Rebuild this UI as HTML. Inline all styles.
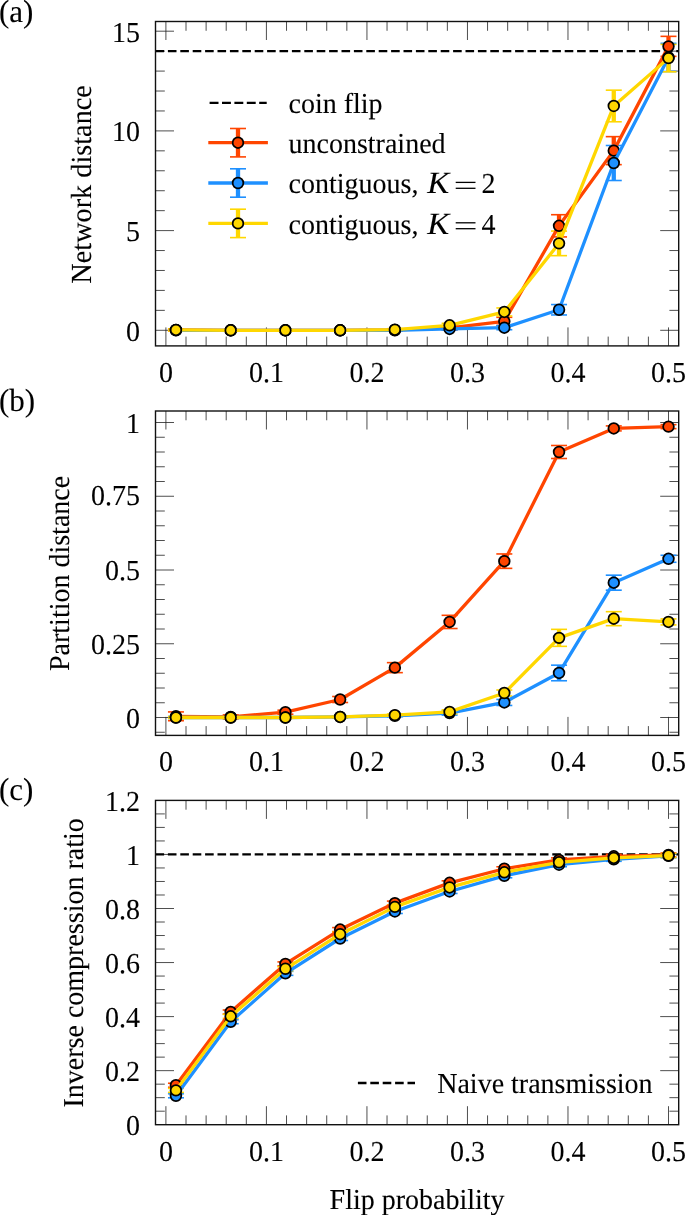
<!DOCTYPE html>
<html><head><meta charset="utf-8"><style>
html,body{margin:0;padding:0;background:#fff;width:685px;height:1215px;overflow:hidden}
svg{display:block;will-change:transform;font-family:"Liberation Serif",serif;text-rendering:geometricPrecision}
text{stroke:#000;stroke-width:0.1px}
</style></head><body>
<svg width="685" height="1215" viewBox="0 0 685 1215" fill="#000"><line x1="155.50" y1="330.30" x2="174.00" y2="330.30" stroke="#222" stroke-width="0.8" />
<line x1="678.70" y1="330.30" x2="660.20" y2="330.30" stroke="#222" stroke-width="0.8" />
<line x1="155.50" y1="310.36" x2="164.80" y2="310.36" stroke="#222" stroke-width="0.8" />
<line x1="678.70" y1="310.36" x2="669.40" y2="310.36" stroke="#222" stroke-width="0.8" />
<line x1="155.50" y1="290.42" x2="164.80" y2="290.42" stroke="#222" stroke-width="0.8" />
<line x1="678.70" y1="290.42" x2="669.40" y2="290.42" stroke="#222" stroke-width="0.8" />
<line x1="155.50" y1="270.48" x2="164.80" y2="270.48" stroke="#222" stroke-width="0.8" />
<line x1="678.70" y1="270.48" x2="669.40" y2="270.48" stroke="#222" stroke-width="0.8" />
<line x1="155.50" y1="250.54" x2="164.80" y2="250.54" stroke="#222" stroke-width="0.8" />
<line x1="678.70" y1="250.54" x2="669.40" y2="250.54" stroke="#222" stroke-width="0.8" />
<line x1="155.50" y1="230.60" x2="174.00" y2="230.60" stroke="#222" stroke-width="0.8" />
<line x1="678.70" y1="230.60" x2="660.20" y2="230.60" stroke="#222" stroke-width="0.8" />
<line x1="155.50" y1="210.66" x2="164.80" y2="210.66" stroke="#222" stroke-width="0.8" />
<line x1="678.70" y1="210.66" x2="669.40" y2="210.66" stroke="#222" stroke-width="0.8" />
<line x1="155.50" y1="190.72" x2="164.80" y2="190.72" stroke="#222" stroke-width="0.8" />
<line x1="678.70" y1="190.72" x2="669.40" y2="190.72" stroke="#222" stroke-width="0.8" />
<line x1="155.50" y1="170.78" x2="164.80" y2="170.78" stroke="#222" stroke-width="0.8" />
<line x1="678.70" y1="170.78" x2="669.40" y2="170.78" stroke="#222" stroke-width="0.8" />
<line x1="155.50" y1="150.84" x2="164.80" y2="150.84" stroke="#222" stroke-width="0.8" />
<line x1="678.70" y1="150.84" x2="669.40" y2="150.84" stroke="#222" stroke-width="0.8" />
<line x1="155.50" y1="130.90" x2="174.00" y2="130.90" stroke="#222" stroke-width="0.8" />
<line x1="678.70" y1="130.90" x2="660.20" y2="130.90" stroke="#222" stroke-width="0.8" />
<line x1="155.50" y1="110.96" x2="164.80" y2="110.96" stroke="#222" stroke-width="0.8" />
<line x1="678.70" y1="110.96" x2="669.40" y2="110.96" stroke="#222" stroke-width="0.8" />
<line x1="155.50" y1="91.02" x2="164.80" y2="91.02" stroke="#222" stroke-width="0.8" />
<line x1="678.70" y1="91.02" x2="669.40" y2="91.02" stroke="#222" stroke-width="0.8" />
<line x1="155.50" y1="71.08" x2="164.80" y2="71.08" stroke="#222" stroke-width="0.8" />
<line x1="678.70" y1="71.08" x2="669.40" y2="71.08" stroke="#222" stroke-width="0.8" />
<line x1="155.50" y1="51.14" x2="164.80" y2="51.14" stroke="#222" stroke-width="0.8" />
<line x1="678.70" y1="51.14" x2="669.40" y2="51.14" stroke="#222" stroke-width="0.8" />
<line x1="155.50" y1="31.20" x2="174.00" y2="31.20" stroke="#222" stroke-width="0.8" />
<line x1="678.70" y1="31.20" x2="660.20" y2="31.20" stroke="#222" stroke-width="0.8" />
<line x1="165.90" y1="345.90" x2="165.90" y2="327.40" stroke="#222" stroke-width="0.8" />
<line x1="165.90" y1="21.50" x2="165.90" y2="40.00" stroke="#222" stroke-width="0.8" />
<line x1="186.00" y1="345.90" x2="186.00" y2="336.60" stroke="#222" stroke-width="0.8" />
<line x1="186.00" y1="21.50" x2="186.00" y2="30.80" stroke="#222" stroke-width="0.8" />
<line x1="206.11" y1="345.90" x2="206.11" y2="336.60" stroke="#222" stroke-width="0.8" />
<line x1="206.11" y1="21.50" x2="206.11" y2="30.80" stroke="#222" stroke-width="0.8" />
<line x1="226.21" y1="345.90" x2="226.21" y2="336.60" stroke="#222" stroke-width="0.8" />
<line x1="226.21" y1="21.50" x2="226.21" y2="30.80" stroke="#222" stroke-width="0.8" />
<line x1="246.32" y1="345.90" x2="246.32" y2="336.60" stroke="#222" stroke-width="0.8" />
<line x1="246.32" y1="21.50" x2="246.32" y2="30.80" stroke="#222" stroke-width="0.8" />
<line x1="266.42" y1="345.90" x2="266.42" y2="327.40" stroke="#222" stroke-width="0.8" />
<line x1="266.42" y1="21.50" x2="266.42" y2="40.00" stroke="#222" stroke-width="0.8" />
<line x1="286.52" y1="345.90" x2="286.52" y2="336.60" stroke="#222" stroke-width="0.8" />
<line x1="286.52" y1="21.50" x2="286.52" y2="30.80" stroke="#222" stroke-width="0.8" />
<line x1="306.63" y1="345.90" x2="306.63" y2="336.60" stroke="#222" stroke-width="0.8" />
<line x1="306.63" y1="21.50" x2="306.63" y2="30.80" stroke="#222" stroke-width="0.8" />
<line x1="326.73" y1="345.90" x2="326.73" y2="336.60" stroke="#222" stroke-width="0.8" />
<line x1="326.73" y1="21.50" x2="326.73" y2="30.80" stroke="#222" stroke-width="0.8" />
<line x1="346.84" y1="345.90" x2="346.84" y2="336.60" stroke="#222" stroke-width="0.8" />
<line x1="346.84" y1="21.50" x2="346.84" y2="30.80" stroke="#222" stroke-width="0.8" />
<line x1="366.94" y1="345.90" x2="366.94" y2="327.40" stroke="#222" stroke-width="0.8" />
<line x1="366.94" y1="21.50" x2="366.94" y2="40.00" stroke="#222" stroke-width="0.8" />
<line x1="387.04" y1="345.90" x2="387.04" y2="336.60" stroke="#222" stroke-width="0.8" />
<line x1="387.04" y1="21.50" x2="387.04" y2="30.80" stroke="#222" stroke-width="0.8" />
<line x1="407.15" y1="345.90" x2="407.15" y2="336.60" stroke="#222" stroke-width="0.8" />
<line x1="407.15" y1="21.50" x2="407.15" y2="30.80" stroke="#222" stroke-width="0.8" />
<line x1="427.25" y1="345.90" x2="427.25" y2="336.60" stroke="#222" stroke-width="0.8" />
<line x1="427.25" y1="21.50" x2="427.25" y2="30.80" stroke="#222" stroke-width="0.8" />
<line x1="447.36" y1="345.90" x2="447.36" y2="336.60" stroke="#222" stroke-width="0.8" />
<line x1="447.36" y1="21.50" x2="447.36" y2="30.80" stroke="#222" stroke-width="0.8" />
<line x1="467.46" y1="345.90" x2="467.46" y2="327.40" stroke="#222" stroke-width="0.8" />
<line x1="467.46" y1="21.50" x2="467.46" y2="40.00" stroke="#222" stroke-width="0.8" />
<line x1="487.56" y1="345.90" x2="487.56" y2="336.60" stroke="#222" stroke-width="0.8" />
<line x1="487.56" y1="21.50" x2="487.56" y2="30.80" stroke="#222" stroke-width="0.8" />
<line x1="507.67" y1="345.90" x2="507.67" y2="336.60" stroke="#222" stroke-width="0.8" />
<line x1="507.67" y1="21.50" x2="507.67" y2="30.80" stroke="#222" stroke-width="0.8" />
<line x1="527.77" y1="345.90" x2="527.77" y2="336.60" stroke="#222" stroke-width="0.8" />
<line x1="527.77" y1="21.50" x2="527.77" y2="30.80" stroke="#222" stroke-width="0.8" />
<line x1="547.88" y1="345.90" x2="547.88" y2="336.60" stroke="#222" stroke-width="0.8" />
<line x1="547.88" y1="21.50" x2="547.88" y2="30.80" stroke="#222" stroke-width="0.8" />
<line x1="567.98" y1="345.90" x2="567.98" y2="327.40" stroke="#222" stroke-width="0.8" />
<line x1="567.98" y1="21.50" x2="567.98" y2="40.00" stroke="#222" stroke-width="0.8" />
<line x1="588.08" y1="345.90" x2="588.08" y2="336.60" stroke="#222" stroke-width="0.8" />
<line x1="588.08" y1="21.50" x2="588.08" y2="30.80" stroke="#222" stroke-width="0.8" />
<line x1="608.19" y1="345.90" x2="608.19" y2="336.60" stroke="#222" stroke-width="0.8" />
<line x1="608.19" y1="21.50" x2="608.19" y2="30.80" stroke="#222" stroke-width="0.8" />
<line x1="628.29" y1="345.90" x2="628.29" y2="336.60" stroke="#222" stroke-width="0.8" />
<line x1="628.29" y1="21.50" x2="628.29" y2="30.80" stroke="#222" stroke-width="0.8" />
<line x1="648.40" y1="345.90" x2="648.40" y2="336.60" stroke="#222" stroke-width="0.8" />
<line x1="648.40" y1="21.50" x2="648.40" y2="30.80" stroke="#222" stroke-width="0.8" />
<line x1="668.50" y1="345.90" x2="668.50" y2="327.40" stroke="#222" stroke-width="0.8" />
<line x1="668.50" y1="21.50" x2="668.50" y2="40.00" stroke="#222" stroke-width="0.8" />
<line x1="155.50" y1="51.14" x2="678.70" y2="51.14" stroke="#000" stroke-width="2.3" stroke-dasharray="8.6 3.8"/>
<line x1="175.95" y1="328.90" x2="175.95" y2="330.90" stroke="#ff4500" stroke-width="4.3" />
<line x1="167.95" y1="328.90" x2="183.95" y2="328.90" stroke="#ff4500" stroke-width="1.6" />
<line x1="167.95" y1="330.90" x2="183.95" y2="330.90" stroke="#ff4500" stroke-width="1.6" />
<line x1="394.86" y1="328.90" x2="394.86" y2="330.90" stroke="#ff4500" stroke-width="4.3" />
<line x1="386.86" y1="328.90" x2="402.86" y2="328.90" stroke="#ff4500" stroke-width="1.6" />
<line x1="386.86" y1="330.90" x2="402.86" y2="330.90" stroke="#ff4500" stroke-width="1.6" />
<line x1="449.59" y1="325.91" x2="449.59" y2="329.91" stroke="#ff4500" stroke-width="4.3" />
<line x1="441.59" y1="325.91" x2="457.59" y2="325.91" stroke="#ff4500" stroke-width="1.6" />
<line x1="441.59" y1="329.91" x2="457.59" y2="329.91" stroke="#ff4500" stroke-width="1.6" />
<line x1="504.32" y1="317.33" x2="504.32" y2="325.33" stroke="#ff4500" stroke-width="4.3" />
<line x1="496.32" y1="317.33" x2="512.32" y2="317.33" stroke="#ff4500" stroke-width="1.6" />
<line x1="496.32" y1="325.33" x2="512.32" y2="325.33" stroke="#ff4500" stroke-width="1.6" />
<line x1="559.04" y1="214.71" x2="559.04" y2="236.91" stroke="#ff4500" stroke-width="4.3" />
<line x1="551.04" y1="214.71" x2="567.04" y2="214.71" stroke="#ff4500" stroke-width="1.6" />
<line x1="551.04" y1="236.91" x2="567.04" y2="236.91" stroke="#ff4500" stroke-width="1.6" />
<line x1="613.77" y1="136.64" x2="613.77" y2="164.64" stroke="#ff4500" stroke-width="4.3" />
<line x1="605.77" y1="136.64" x2="621.77" y2="136.64" stroke="#ff4500" stroke-width="1.6" />
<line x1="605.77" y1="164.64" x2="621.77" y2="164.64" stroke="#ff4500" stroke-width="1.6" />
<line x1="668.50" y1="36.35" x2="668.50" y2="56.35" stroke="#ff4500" stroke-width="4.3" />
<line x1="660.50" y1="36.35" x2="676.50" y2="36.35" stroke="#ff4500" stroke-width="1.6" />
<line x1="660.50" y1="56.35" x2="676.50" y2="56.35" stroke="#ff4500" stroke-width="1.6" />
<line x1="449.59" y1="327.90" x2="449.59" y2="329.90" stroke="#1e90ff" stroke-width="4.3" />
<line x1="441.59" y1="327.90" x2="457.59" y2="327.90" stroke="#1e90ff" stroke-width="1.6" />
<line x1="441.59" y1="329.90" x2="457.59" y2="329.90" stroke="#1e90ff" stroke-width="1.6" />
<line x1="504.32" y1="325.71" x2="504.32" y2="329.71" stroke="#1e90ff" stroke-width="4.3" />
<line x1="496.32" y1="325.71" x2="512.32" y2="325.71" stroke="#1e90ff" stroke-width="1.6" />
<line x1="496.32" y1="329.71" x2="512.32" y2="329.71" stroke="#1e90ff" stroke-width="1.6" />
<line x1="559.04" y1="304.56" x2="559.04" y2="314.96" stroke="#1e90ff" stroke-width="4.3" />
<line x1="551.04" y1="304.56" x2="567.04" y2="304.56" stroke="#1e90ff" stroke-width="1.6" />
<line x1="551.04" y1="314.96" x2="567.04" y2="314.96" stroke="#1e90ff" stroke-width="1.6" />
<line x1="613.77" y1="145.50" x2="613.77" y2="180.50" stroke="#1e90ff" stroke-width="4.3" />
<line x1="605.77" y1="145.50" x2="621.77" y2="145.50" stroke="#1e90ff" stroke-width="1.6" />
<line x1="605.77" y1="180.50" x2="621.77" y2="180.50" stroke="#1e90ff" stroke-width="1.6" />
<line x1="668.50" y1="43.34" x2="668.50" y2="71.54" stroke="#1e90ff" stroke-width="4.3" />
<line x1="660.50" y1="43.34" x2="676.50" y2="43.34" stroke="#1e90ff" stroke-width="1.6" />
<line x1="660.50" y1="71.54" x2="676.50" y2="71.54" stroke="#1e90ff" stroke-width="1.6" />
<line x1="175.95" y1="328.90" x2="175.95" y2="330.90" stroke="#ffd700" stroke-width="4.3" />
<line x1="167.95" y1="328.90" x2="183.95" y2="328.90" stroke="#ffd700" stroke-width="1.6" />
<line x1="167.95" y1="330.90" x2="183.95" y2="330.90" stroke="#ffd700" stroke-width="1.6" />
<line x1="394.86" y1="328.70" x2="394.86" y2="330.70" stroke="#ffd700" stroke-width="4.3" />
<line x1="386.86" y1="328.70" x2="402.86" y2="328.70" stroke="#ffd700" stroke-width="1.6" />
<line x1="386.86" y1="330.70" x2="402.86" y2="330.70" stroke="#ffd700" stroke-width="1.6" />
<line x1="449.59" y1="323.31" x2="449.59" y2="327.31" stroke="#ffd700" stroke-width="4.3" />
<line x1="441.59" y1="323.31" x2="457.59" y2="323.31" stroke="#ffd700" stroke-width="1.6" />
<line x1="441.59" y1="327.31" x2="457.59" y2="327.31" stroke="#ffd700" stroke-width="1.6" />
<line x1="504.32" y1="307.96" x2="504.32" y2="315.96" stroke="#ffd700" stroke-width="4.3" />
<line x1="496.32" y1="307.96" x2="512.32" y2="307.96" stroke="#ffd700" stroke-width="1.6" />
<line x1="496.32" y1="315.96" x2="512.32" y2="315.96" stroke="#ffd700" stroke-width="1.6" />
<line x1="559.04" y1="231.06" x2="559.04" y2="255.66" stroke="#ffd700" stroke-width="4.3" />
<line x1="551.04" y1="231.06" x2="567.04" y2="231.06" stroke="#ffd700" stroke-width="1.6" />
<line x1="551.04" y1="255.66" x2="567.04" y2="255.66" stroke="#ffd700" stroke-width="1.6" />
<line x1="613.77" y1="90.17" x2="613.77" y2="121.77" stroke="#ffd700" stroke-width="4.3" />
<line x1="605.77" y1="90.17" x2="621.77" y2="90.17" stroke="#ffd700" stroke-width="1.6" />
<line x1="605.77" y1="121.77" x2="621.77" y2="121.77" stroke="#ffd700" stroke-width="1.6" />
<line x1="668.50" y1="44.42" x2="668.50" y2="71.82" stroke="#ffd700" stroke-width="4.3" />
<line x1="660.50" y1="44.42" x2="676.50" y2="44.42" stroke="#ffd700" stroke-width="1.6" />
<line x1="660.50" y1="71.82" x2="676.50" y2="71.82" stroke="#ffd700" stroke-width="1.6" />
<polyline points="175.95,329.90 230.68,330.30 285.41,330.30 340.13,330.30 394.86,329.90 449.59,327.91 504.32,321.33 559.04,225.81 613.77,150.64 668.50,46.35" fill="none" stroke="#ff4500" stroke-width="3.3" stroke-linejoin="round"/>
<circle cx="175.95" cy="329.90" r="5.35" fill="#ff4500" stroke="#000" stroke-width="1.75"/>
<circle cx="230.68" cy="330.30" r="5.35" fill="#ff4500" stroke="#000" stroke-width="1.75"/>
<circle cx="285.41" cy="330.30" r="5.35" fill="#ff4500" stroke="#000" stroke-width="1.75"/>
<circle cx="340.13" cy="330.30" r="5.35" fill="#ff4500" stroke="#000" stroke-width="1.75"/>
<circle cx="394.86" cy="329.90" r="5.35" fill="#ff4500" stroke="#000" stroke-width="1.75"/>
<circle cx="449.59" cy="327.91" r="5.35" fill="#ff4500" stroke="#000" stroke-width="1.75"/>
<circle cx="504.32" cy="321.33" r="5.35" fill="#ff4500" stroke="#000" stroke-width="1.75"/>
<circle cx="559.04" cy="225.81" r="5.35" fill="#ff4500" stroke="#000" stroke-width="1.75"/>
<circle cx="613.77" cy="150.64" r="5.35" fill="#ff4500" stroke="#000" stroke-width="1.75"/>
<circle cx="668.50" cy="46.35" r="5.35" fill="#ff4500" stroke="#000" stroke-width="1.75"/>
<polyline points="175.95,330.30 230.68,330.30 285.41,330.30 340.13,330.30 394.86,330.30 449.59,328.90 504.32,327.71 559.04,309.76 613.77,163.00 668.50,57.44" fill="none" stroke="#1e90ff" stroke-width="3.3" stroke-linejoin="round"/>
<circle cx="175.95" cy="330.30" r="5.35" fill="#1e90ff" stroke="#000" stroke-width="1.75"/>
<circle cx="230.68" cy="330.30" r="5.35" fill="#1e90ff" stroke="#000" stroke-width="1.75"/>
<circle cx="285.41" cy="330.30" r="5.35" fill="#1e90ff" stroke="#000" stroke-width="1.75"/>
<circle cx="340.13" cy="330.30" r="5.35" fill="#1e90ff" stroke="#000" stroke-width="1.75"/>
<circle cx="394.86" cy="330.30" r="5.35" fill="#1e90ff" stroke="#000" stroke-width="1.75"/>
<circle cx="449.59" cy="328.90" r="5.35" fill="#1e90ff" stroke="#000" stroke-width="1.75"/>
<circle cx="504.32" cy="327.71" r="5.35" fill="#1e90ff" stroke="#000" stroke-width="1.75"/>
<circle cx="559.04" cy="309.76" r="5.35" fill="#1e90ff" stroke="#000" stroke-width="1.75"/>
<circle cx="613.77" cy="163.00" r="5.35" fill="#1e90ff" stroke="#000" stroke-width="1.75"/>
<circle cx="668.50" cy="57.44" r="5.35" fill="#1e90ff" stroke="#000" stroke-width="1.75"/>
<polyline points="175.95,329.90 230.68,330.30 285.41,330.30 340.13,330.30 394.86,329.70 449.59,325.31 504.32,311.96 559.04,243.36 613.77,105.97 668.50,58.12" fill="none" stroke="#ffd700" stroke-width="3.3" stroke-linejoin="round"/>
<circle cx="175.95" cy="329.90" r="5.35" fill="#ffd700" stroke="#000" stroke-width="1.75"/>
<circle cx="230.68" cy="330.30" r="5.35" fill="#ffd700" stroke="#000" stroke-width="1.75"/>
<circle cx="285.41" cy="330.30" r="5.35" fill="#ffd700" stroke="#000" stroke-width="1.75"/>
<circle cx="340.13" cy="330.30" r="5.35" fill="#ffd700" stroke="#000" stroke-width="1.75"/>
<circle cx="394.86" cy="329.70" r="5.35" fill="#ffd700" stroke="#000" stroke-width="1.75"/>
<circle cx="449.59" cy="325.31" r="5.35" fill="#ffd700" stroke="#000" stroke-width="1.75"/>
<circle cx="504.32" cy="311.96" r="5.35" fill="#ffd700" stroke="#000" stroke-width="1.75"/>
<circle cx="559.04" cy="243.36" r="5.35" fill="#ffd700" stroke="#000" stroke-width="1.75"/>
<circle cx="613.77" cy="105.97" r="5.35" fill="#ffd700" stroke="#000" stroke-width="1.75"/>
<circle cx="668.50" cy="58.12" r="5.35" fill="#ffd700" stroke="#000" stroke-width="1.75"/>
<rect x="155.5" y="21.5" width="523.20" height="324.40" fill="none" stroke="#111" stroke-width="1.4"/>
<text transform="translate(140.10,340.60) scale(1,1.03)" text-anchor="end" font-size="28" >0</text>
<text transform="translate(140.10,240.90) scale(1,1.03)" text-anchor="end" font-size="28" >5</text>
<text transform="translate(140.10,141.20) scale(1,1.03)" text-anchor="end" font-size="28" >10</text>
<text transform="translate(140.10,41.50) scale(1,1.03)" text-anchor="end" font-size="28" >15</text>
<text transform="translate(165.90,381.70) scale(1,1.03)" text-anchor="middle" font-size="28" >0</text>
<text transform="translate(266.42,381.70) scale(1,1.03)" text-anchor="middle" font-size="28" >0.1</text>
<text transform="translate(366.94,381.70) scale(1,1.03)" text-anchor="middle" font-size="28" >0.2</text>
<text transform="translate(467.46,381.70) scale(1,1.03)" text-anchor="middle" font-size="28" >0.3</text>
<text transform="translate(567.98,381.70) scale(1,1.03)" text-anchor="middle" font-size="28" >0.4</text>
<text transform="translate(668.50,381.70) scale(1,1.03)" text-anchor="middle" font-size="28" >0.5</text>
<text x="0" y="0" transform="translate(90.80,184.40) rotate(-90) scale(1,1.03)" text-anchor="middle" font-size="28.25">Network distance</text>
<line x1="209.60" y1="102.90" x2="266.70" y2="102.90" stroke="#000" stroke-width="2.3" stroke-dasharray="8.9 3.5"/>
<line x1="238.00" y1="128.50" x2="238.00" y2="156.90" stroke="#ff4500" stroke-width="4.3" />
<line x1="230.00" y1="128.50" x2="246.00" y2="128.50" stroke="#ff4500" stroke-width="1.6" />
<line x1="230.00" y1="156.90" x2="246.00" y2="156.90" stroke="#ff4500" stroke-width="1.6" />
<line x1="208.30" y1="142.70" x2="267.90" y2="142.70" stroke="#ff4500" stroke-width="3.3" />
<circle cx="238" cy="142.7" r="5.35" fill="#ff4500" stroke="#000" stroke-width="1.75"/>
<line x1="238.00" y1="168.80" x2="238.00" y2="197.20" stroke="#1e90ff" stroke-width="4.3" />
<line x1="230.00" y1="168.80" x2="246.00" y2="168.80" stroke="#1e90ff" stroke-width="1.6" />
<line x1="230.00" y1="197.20" x2="246.00" y2="197.20" stroke="#1e90ff" stroke-width="1.6" />
<line x1="208.30" y1="183.00" x2="267.90" y2="183.00" stroke="#1e90ff" stroke-width="3.3" />
<circle cx="238" cy="183.0" r="5.35" fill="#1e90ff" stroke="#000" stroke-width="1.75"/>
<line x1="238.00" y1="209.20" x2="238.00" y2="237.60" stroke="#ffd700" stroke-width="4.3" />
<line x1="230.00" y1="209.20" x2="246.00" y2="209.20" stroke="#ffd700" stroke-width="1.6" />
<line x1="230.00" y1="237.60" x2="246.00" y2="237.60" stroke="#ffd700" stroke-width="1.6" />
<line x1="208.30" y1="223.40" x2="267.90" y2="223.40" stroke="#ffd700" stroke-width="3.3" />
<circle cx="238" cy="223.4" r="5.35" fill="#ffd700" stroke="#000" stroke-width="1.75"/>
<text transform="translate(288.50,113.00) scale(1,1.03)" font-size="28" >coin flip</text>
<text transform="translate(288.50,153.00) scale(1,1.03)" font-size="28" >unconstrained</text>
<text transform="translate(288.50,193.30) scale(1,1.03)" font-size="28" >contiguous,</text>
<text x="0" y="0" transform="translate(427.3,193.30) scale(1.1,1.03)" font-size="30" font-style="italic">K</text>
<line x1="455.70" y1="182.40" x2="475.50" y2="182.40" stroke="#000" stroke-width="1.3" />
<line x1="455.70" y1="188.30" x2="475.50" y2="188.30" stroke="#000" stroke-width="1.3" />
<text transform="translate(481.50,193.30) scale(1,1.03)" font-size="28" >2</text>
<text transform="translate(288.50,233.70) scale(1,1.03)" font-size="28" >contiguous,</text>
<text x="0" y="0" transform="translate(427.3,233.70) scale(1.1,1.03)" font-size="30" font-style="italic">K</text>
<line x1="455.70" y1="222.80" x2="475.50" y2="222.80" stroke="#000" stroke-width="1.3" />
<line x1="455.70" y1="228.70" x2="475.50" y2="228.70" stroke="#000" stroke-width="1.3" />
<text transform="translate(481.50,233.70) scale(1,1.03)" font-size="28" >4</text>
<text transform="translate(-1.00,21.50) scale(1,1.03)" font-size="31" >(a)</text>
<line x1="155.50" y1="732.25" x2="164.80" y2="732.25" stroke="#222" stroke-width="0.8" />
<line x1="678.70" y1="732.25" x2="669.40" y2="732.25" stroke="#222" stroke-width="0.8" />
<line x1="155.50" y1="717.50" x2="174.00" y2="717.50" stroke="#222" stroke-width="0.8" />
<line x1="678.70" y1="717.50" x2="660.20" y2="717.50" stroke="#222" stroke-width="0.8" />
<line x1="155.50" y1="702.75" x2="164.80" y2="702.75" stroke="#222" stroke-width="0.8" />
<line x1="678.70" y1="702.75" x2="669.40" y2="702.75" stroke="#222" stroke-width="0.8" />
<line x1="155.50" y1="688.00" x2="164.80" y2="688.00" stroke="#222" stroke-width="0.8" />
<line x1="678.70" y1="688.00" x2="669.40" y2="688.00" stroke="#222" stroke-width="0.8" />
<line x1="155.50" y1="673.25" x2="164.80" y2="673.25" stroke="#222" stroke-width="0.8" />
<line x1="678.70" y1="673.25" x2="669.40" y2="673.25" stroke="#222" stroke-width="0.8" />
<line x1="155.50" y1="658.50" x2="164.80" y2="658.50" stroke="#222" stroke-width="0.8" />
<line x1="678.70" y1="658.50" x2="669.40" y2="658.50" stroke="#222" stroke-width="0.8" />
<line x1="155.50" y1="643.75" x2="174.00" y2="643.75" stroke="#222" stroke-width="0.8" />
<line x1="678.70" y1="643.75" x2="660.20" y2="643.75" stroke="#222" stroke-width="0.8" />
<line x1="155.50" y1="629.00" x2="164.80" y2="629.00" stroke="#222" stroke-width="0.8" />
<line x1="678.70" y1="629.00" x2="669.40" y2="629.00" stroke="#222" stroke-width="0.8" />
<line x1="155.50" y1="614.25" x2="164.80" y2="614.25" stroke="#222" stroke-width="0.8" />
<line x1="678.70" y1="614.25" x2="669.40" y2="614.25" stroke="#222" stroke-width="0.8" />
<line x1="155.50" y1="599.50" x2="164.80" y2="599.50" stroke="#222" stroke-width="0.8" />
<line x1="678.70" y1="599.50" x2="669.40" y2="599.50" stroke="#222" stroke-width="0.8" />
<line x1="155.50" y1="584.75" x2="164.80" y2="584.75" stroke="#222" stroke-width="0.8" />
<line x1="678.70" y1="584.75" x2="669.40" y2="584.75" stroke="#222" stroke-width="0.8" />
<line x1="155.50" y1="570.00" x2="174.00" y2="570.00" stroke="#222" stroke-width="0.8" />
<line x1="678.70" y1="570.00" x2="660.20" y2="570.00" stroke="#222" stroke-width="0.8" />
<line x1="155.50" y1="555.25" x2="164.80" y2="555.25" stroke="#222" stroke-width="0.8" />
<line x1="678.70" y1="555.25" x2="669.40" y2="555.25" stroke="#222" stroke-width="0.8" />
<line x1="155.50" y1="540.50" x2="164.80" y2="540.50" stroke="#222" stroke-width="0.8" />
<line x1="678.70" y1="540.50" x2="669.40" y2="540.50" stroke="#222" stroke-width="0.8" />
<line x1="155.50" y1="525.75" x2="164.80" y2="525.75" stroke="#222" stroke-width="0.8" />
<line x1="678.70" y1="525.75" x2="669.40" y2="525.75" stroke="#222" stroke-width="0.8" />
<line x1="155.50" y1="511.00" x2="164.80" y2="511.00" stroke="#222" stroke-width="0.8" />
<line x1="678.70" y1="511.00" x2="669.40" y2="511.00" stroke="#222" stroke-width="0.8" />
<line x1="155.50" y1="496.25" x2="174.00" y2="496.25" stroke="#222" stroke-width="0.8" />
<line x1="678.70" y1="496.25" x2="660.20" y2="496.25" stroke="#222" stroke-width="0.8" />
<line x1="155.50" y1="481.50" x2="164.80" y2="481.50" stroke="#222" stroke-width="0.8" />
<line x1="678.70" y1="481.50" x2="669.40" y2="481.50" stroke="#222" stroke-width="0.8" />
<line x1="155.50" y1="466.75" x2="164.80" y2="466.75" stroke="#222" stroke-width="0.8" />
<line x1="678.70" y1="466.75" x2="669.40" y2="466.75" stroke="#222" stroke-width="0.8" />
<line x1="155.50" y1="452.00" x2="164.80" y2="452.00" stroke="#222" stroke-width="0.8" />
<line x1="678.70" y1="452.00" x2="669.40" y2="452.00" stroke="#222" stroke-width="0.8" />
<line x1="155.50" y1="437.25" x2="164.80" y2="437.25" stroke="#222" stroke-width="0.8" />
<line x1="678.70" y1="437.25" x2="669.40" y2="437.25" stroke="#222" stroke-width="0.8" />
<line x1="155.50" y1="422.50" x2="174.00" y2="422.50" stroke="#222" stroke-width="0.8" />
<line x1="678.70" y1="422.50" x2="660.20" y2="422.50" stroke="#222" stroke-width="0.8" />
<line x1="165.90" y1="735.40" x2="165.90" y2="716.90" stroke="#222" stroke-width="0.8" />
<line x1="165.90" y1="411.00" x2="165.90" y2="429.50" stroke="#222" stroke-width="0.8" />
<line x1="186.00" y1="735.40" x2="186.00" y2="726.10" stroke="#222" stroke-width="0.8" />
<line x1="186.00" y1="411.00" x2="186.00" y2="420.30" stroke="#222" stroke-width="0.8" />
<line x1="206.11" y1="735.40" x2="206.11" y2="726.10" stroke="#222" stroke-width="0.8" />
<line x1="206.11" y1="411.00" x2="206.11" y2="420.30" stroke="#222" stroke-width="0.8" />
<line x1="226.21" y1="735.40" x2="226.21" y2="726.10" stroke="#222" stroke-width="0.8" />
<line x1="226.21" y1="411.00" x2="226.21" y2="420.30" stroke="#222" stroke-width="0.8" />
<line x1="246.32" y1="735.40" x2="246.32" y2="726.10" stroke="#222" stroke-width="0.8" />
<line x1="246.32" y1="411.00" x2="246.32" y2="420.30" stroke="#222" stroke-width="0.8" />
<line x1="266.42" y1="735.40" x2="266.42" y2="716.90" stroke="#222" stroke-width="0.8" />
<line x1="266.42" y1="411.00" x2="266.42" y2="429.50" stroke="#222" stroke-width="0.8" />
<line x1="286.52" y1="735.40" x2="286.52" y2="726.10" stroke="#222" stroke-width="0.8" />
<line x1="286.52" y1="411.00" x2="286.52" y2="420.30" stroke="#222" stroke-width="0.8" />
<line x1="306.63" y1="735.40" x2="306.63" y2="726.10" stroke="#222" stroke-width="0.8" />
<line x1="306.63" y1="411.00" x2="306.63" y2="420.30" stroke="#222" stroke-width="0.8" />
<line x1="326.73" y1="735.40" x2="326.73" y2="726.10" stroke="#222" stroke-width="0.8" />
<line x1="326.73" y1="411.00" x2="326.73" y2="420.30" stroke="#222" stroke-width="0.8" />
<line x1="346.84" y1="735.40" x2="346.84" y2="726.10" stroke="#222" stroke-width="0.8" />
<line x1="346.84" y1="411.00" x2="346.84" y2="420.30" stroke="#222" stroke-width="0.8" />
<line x1="366.94" y1="735.40" x2="366.94" y2="716.90" stroke="#222" stroke-width="0.8" />
<line x1="366.94" y1="411.00" x2="366.94" y2="429.50" stroke="#222" stroke-width="0.8" />
<line x1="387.04" y1="735.40" x2="387.04" y2="726.10" stroke="#222" stroke-width="0.8" />
<line x1="387.04" y1="411.00" x2="387.04" y2="420.30" stroke="#222" stroke-width="0.8" />
<line x1="407.15" y1="735.40" x2="407.15" y2="726.10" stroke="#222" stroke-width="0.8" />
<line x1="407.15" y1="411.00" x2="407.15" y2="420.30" stroke="#222" stroke-width="0.8" />
<line x1="427.25" y1="735.40" x2="427.25" y2="726.10" stroke="#222" stroke-width="0.8" />
<line x1="427.25" y1="411.00" x2="427.25" y2="420.30" stroke="#222" stroke-width="0.8" />
<line x1="447.36" y1="735.40" x2="447.36" y2="726.10" stroke="#222" stroke-width="0.8" />
<line x1="447.36" y1="411.00" x2="447.36" y2="420.30" stroke="#222" stroke-width="0.8" />
<line x1="467.46" y1="735.40" x2="467.46" y2="716.90" stroke="#222" stroke-width="0.8" />
<line x1="467.46" y1="411.00" x2="467.46" y2="429.50" stroke="#222" stroke-width="0.8" />
<line x1="487.56" y1="735.40" x2="487.56" y2="726.10" stroke="#222" stroke-width="0.8" />
<line x1="487.56" y1="411.00" x2="487.56" y2="420.30" stroke="#222" stroke-width="0.8" />
<line x1="507.67" y1="735.40" x2="507.67" y2="726.10" stroke="#222" stroke-width="0.8" />
<line x1="507.67" y1="411.00" x2="507.67" y2="420.30" stroke="#222" stroke-width="0.8" />
<line x1="527.77" y1="735.40" x2="527.77" y2="726.10" stroke="#222" stroke-width="0.8" />
<line x1="527.77" y1="411.00" x2="527.77" y2="420.30" stroke="#222" stroke-width="0.8" />
<line x1="547.88" y1="735.40" x2="547.88" y2="726.10" stroke="#222" stroke-width="0.8" />
<line x1="547.88" y1="411.00" x2="547.88" y2="420.30" stroke="#222" stroke-width="0.8" />
<line x1="567.98" y1="735.40" x2="567.98" y2="716.90" stroke="#222" stroke-width="0.8" />
<line x1="567.98" y1="411.00" x2="567.98" y2="429.50" stroke="#222" stroke-width="0.8" />
<line x1="588.08" y1="735.40" x2="588.08" y2="726.10" stroke="#222" stroke-width="0.8" />
<line x1="588.08" y1="411.00" x2="588.08" y2="420.30" stroke="#222" stroke-width="0.8" />
<line x1="608.19" y1="735.40" x2="608.19" y2="726.10" stroke="#222" stroke-width="0.8" />
<line x1="608.19" y1="411.00" x2="608.19" y2="420.30" stroke="#222" stroke-width="0.8" />
<line x1="628.29" y1="735.40" x2="628.29" y2="726.10" stroke="#222" stroke-width="0.8" />
<line x1="628.29" y1="411.00" x2="628.29" y2="420.30" stroke="#222" stroke-width="0.8" />
<line x1="648.40" y1="735.40" x2="648.40" y2="726.10" stroke="#222" stroke-width="0.8" />
<line x1="648.40" y1="411.00" x2="648.40" y2="420.30" stroke="#222" stroke-width="0.8" />
<line x1="668.50" y1="735.40" x2="668.50" y2="716.90" stroke="#222" stroke-width="0.8" />
<line x1="668.50" y1="411.00" x2="668.50" y2="429.50" stroke="#222" stroke-width="0.8" />
<line x1="175.95" y1="711.92" x2="175.95" y2="720.72" stroke="#ff4500" stroke-width="4.3" />
<line x1="167.95" y1="711.92" x2="183.95" y2="711.92" stroke="#ff4500" stroke-width="1.6" />
<line x1="167.95" y1="720.72" x2="183.95" y2="720.72" stroke="#ff4500" stroke-width="1.6" />
<line x1="230.68" y1="714.91" x2="230.68" y2="718.91" stroke="#ff4500" stroke-width="4.3" />
<line x1="222.68" y1="714.91" x2="238.68" y2="714.91" stroke="#ff4500" stroke-width="1.6" />
<line x1="222.68" y1="718.91" x2="238.68" y2="718.91" stroke="#ff4500" stroke-width="1.6" />
<line x1="285.41" y1="710.19" x2="285.41" y2="714.19" stroke="#ff4500" stroke-width="4.3" />
<line x1="277.41" y1="710.19" x2="293.41" y2="710.19" stroke="#ff4500" stroke-width="1.6" />
<line x1="277.41" y1="714.19" x2="293.41" y2="714.19" stroke="#ff4500" stroke-width="1.6" />
<line x1="340.13" y1="696.50" x2="340.13" y2="702.50" stroke="#ff4500" stroke-width="4.3" />
<line x1="332.13" y1="696.50" x2="348.13" y2="696.50" stroke="#ff4500" stroke-width="1.6" />
<line x1="332.13" y1="702.50" x2="348.13" y2="702.50" stroke="#ff4500" stroke-width="1.6" />
<line x1="394.86" y1="662.64" x2="394.86" y2="672.64" stroke="#ff4500" stroke-width="4.3" />
<line x1="386.86" y1="662.64" x2="402.86" y2="662.64" stroke="#ff4500" stroke-width="1.6" />
<line x1="386.86" y1="672.64" x2="402.86" y2="672.64" stroke="#ff4500" stroke-width="1.6" />
<line x1="449.59" y1="615.32" x2="449.59" y2="628.52" stroke="#ff4500" stroke-width="4.3" />
<line x1="441.59" y1="615.32" x2="457.59" y2="615.32" stroke="#ff4500" stroke-width="1.6" />
<line x1="441.59" y1="628.52" x2="457.59" y2="628.52" stroke="#ff4500" stroke-width="1.6" />
<line x1="504.32" y1="553.95" x2="504.32" y2="568.35" stroke="#ff4500" stroke-width="4.3" />
<line x1="496.32" y1="553.95" x2="512.32" y2="553.95" stroke="#ff4500" stroke-width="1.6" />
<line x1="496.32" y1="568.35" x2="512.32" y2="568.35" stroke="#ff4500" stroke-width="1.6" />
<line x1="559.04" y1="445.50" x2="559.04" y2="458.50" stroke="#ff4500" stroke-width="4.3" />
<line x1="551.04" y1="445.50" x2="567.04" y2="445.50" stroke="#ff4500" stroke-width="1.6" />
<line x1="551.04" y1="458.50" x2="567.04" y2="458.50" stroke="#ff4500" stroke-width="1.6" />
<line x1="613.77" y1="425.90" x2="613.77" y2="430.90" stroke="#ff4500" stroke-width="4.3" />
<line x1="605.77" y1="425.90" x2="621.77" y2="425.90" stroke="#ff4500" stroke-width="1.6" />
<line x1="605.77" y1="430.90" x2="621.77" y2="430.90" stroke="#ff4500" stroke-width="1.6" />
<line x1="668.50" y1="424.63" x2="668.50" y2="428.63" stroke="#ff4500" stroke-width="4.3" />
<line x1="660.50" y1="424.63" x2="676.50" y2="424.63" stroke="#ff4500" stroke-width="1.6" />
<line x1="660.50" y1="428.63" x2="676.50" y2="428.63" stroke="#ff4500" stroke-width="1.6" />
<line x1="175.95" y1="716.50" x2="175.95" y2="718.50" stroke="#1e90ff" stroke-width="4.3" />
<line x1="167.95" y1="716.50" x2="183.95" y2="716.50" stroke="#1e90ff" stroke-width="1.6" />
<line x1="167.95" y1="718.50" x2="183.95" y2="718.50" stroke="#1e90ff" stroke-width="1.6" />
<line x1="340.13" y1="715.91" x2="340.13" y2="717.91" stroke="#1e90ff" stroke-width="4.3" />
<line x1="332.13" y1="715.91" x2="348.13" y2="715.91" stroke="#1e90ff" stroke-width="1.6" />
<line x1="332.13" y1="717.91" x2="348.13" y2="717.91" stroke="#1e90ff" stroke-width="1.6" />
<line x1="394.86" y1="714.73" x2="394.86" y2="716.73" stroke="#1e90ff" stroke-width="4.3" />
<line x1="386.86" y1="714.73" x2="402.86" y2="714.73" stroke="#1e90ff" stroke-width="1.6" />
<line x1="386.86" y1="716.73" x2="402.86" y2="716.73" stroke="#1e90ff" stroke-width="1.6" />
<line x1="449.59" y1="711.08" x2="449.59" y2="715.08" stroke="#1e90ff" stroke-width="4.3" />
<line x1="441.59" y1="711.08" x2="457.59" y2="711.08" stroke="#1e90ff" stroke-width="1.6" />
<line x1="441.59" y1="715.08" x2="457.59" y2="715.08" stroke="#1e90ff" stroke-width="1.6" />
<line x1="504.32" y1="699.46" x2="504.32" y2="705.46" stroke="#1e90ff" stroke-width="4.3" />
<line x1="496.32" y1="699.46" x2="512.32" y2="699.46" stroke="#1e90ff" stroke-width="1.6" />
<line x1="496.32" y1="705.46" x2="512.32" y2="705.46" stroke="#1e90ff" stroke-width="1.6" />
<line x1="559.04" y1="665.16" x2="559.04" y2="680.75" stroke="#1e90ff" stroke-width="4.3" />
<line x1="551.04" y1="665.16" x2="567.04" y2="665.16" stroke="#1e90ff" stroke-width="1.6" />
<line x1="551.04" y1="680.75" x2="567.04" y2="680.75" stroke="#1e90ff" stroke-width="1.6" />
<line x1="613.77" y1="575.18" x2="613.77" y2="590.18" stroke="#1e90ff" stroke-width="4.3" />
<line x1="605.77" y1="575.18" x2="621.77" y2="575.18" stroke="#1e90ff" stroke-width="1.6" />
<line x1="605.77" y1="590.18" x2="621.77" y2="590.18" stroke="#1e90ff" stroke-width="1.6" />
<line x1="668.50" y1="555.29" x2="668.50" y2="562.29" stroke="#1e90ff" stroke-width="4.3" />
<line x1="660.50" y1="555.29" x2="676.50" y2="555.29" stroke="#1e90ff" stroke-width="1.6" />
<line x1="660.50" y1="562.29" x2="676.50" y2="562.29" stroke="#1e90ff" stroke-width="1.6" />
<line x1="175.95" y1="716.50" x2="175.95" y2="718.50" stroke="#ffd700" stroke-width="4.3" />
<line x1="167.95" y1="716.50" x2="183.95" y2="716.50" stroke="#ffd700" stroke-width="1.6" />
<line x1="167.95" y1="718.50" x2="183.95" y2="718.50" stroke="#ffd700" stroke-width="1.6" />
<line x1="340.13" y1="715.91" x2="340.13" y2="717.91" stroke="#ffd700" stroke-width="4.3" />
<line x1="332.13" y1="715.91" x2="348.13" y2="715.91" stroke="#ffd700" stroke-width="1.6" />
<line x1="332.13" y1="717.91" x2="348.13" y2="717.91" stroke="#ffd700" stroke-width="1.6" />
<line x1="394.86" y1="714.14" x2="394.86" y2="716.14" stroke="#ffd700" stroke-width="4.3" />
<line x1="386.86" y1="714.14" x2="402.86" y2="714.14" stroke="#ffd700" stroke-width="1.6" />
<line x1="386.86" y1="716.14" x2="402.86" y2="716.14" stroke="#ffd700" stroke-width="1.6" />
<line x1="449.59" y1="709.89" x2="449.59" y2="713.89" stroke="#ffd700" stroke-width="4.3" />
<line x1="441.59" y1="709.89" x2="457.59" y2="709.89" stroke="#ffd700" stroke-width="1.6" />
<line x1="441.59" y1="713.89" x2="457.59" y2="713.89" stroke="#ffd700" stroke-width="1.6" />
<line x1="504.32" y1="690.01" x2="504.32" y2="696.01" stroke="#ffd700" stroke-width="4.3" />
<line x1="496.32" y1="690.01" x2="512.32" y2="690.01" stroke="#ffd700" stroke-width="1.6" />
<line x1="496.32" y1="696.01" x2="512.32" y2="696.01" stroke="#ffd700" stroke-width="1.6" />
<line x1="559.04" y1="629.35" x2="559.04" y2="646.35" stroke="#ffd700" stroke-width="4.3" />
<line x1="551.04" y1="629.35" x2="567.04" y2="629.35" stroke="#ffd700" stroke-width="1.6" />
<line x1="551.04" y1="646.35" x2="567.04" y2="646.35" stroke="#ffd700" stroke-width="1.6" />
<line x1="613.77" y1="611.67" x2="613.77" y2="625.67" stroke="#ffd700" stroke-width="4.3" />
<line x1="605.77" y1="611.67" x2="621.77" y2="611.67" stroke="#ffd700" stroke-width="1.6" />
<line x1="605.77" y1="625.67" x2="621.77" y2="625.67" stroke="#ffd700" stroke-width="1.6" />
<line x1="668.50" y1="618.92" x2="668.50" y2="624.92" stroke="#ffd700" stroke-width="4.3" />
<line x1="660.50" y1="618.92" x2="676.50" y2="618.92" stroke="#ffd700" stroke-width="1.6" />
<line x1="660.50" y1="624.92" x2="676.50" y2="624.92" stroke="#ffd700" stroke-width="1.6" />
<polyline points="175.95,716.32 230.68,716.91 285.41,712.19 340.13,699.50 394.86,667.64 449.59,621.92 504.32,561.15 559.04,452.00 613.77,428.40 668.50,426.63" fill="none" stroke="#ff4500" stroke-width="3.3" stroke-linejoin="round"/>
<circle cx="175.95" cy="716.32" r="5.35" fill="#ff4500" stroke="#000" stroke-width="1.75"/>
<circle cx="230.68" cy="716.91" r="5.35" fill="#ff4500" stroke="#000" stroke-width="1.75"/>
<circle cx="285.41" cy="712.19" r="5.35" fill="#ff4500" stroke="#000" stroke-width="1.75"/>
<circle cx="340.13" cy="699.50" r="5.35" fill="#ff4500" stroke="#000" stroke-width="1.75"/>
<circle cx="394.86" cy="667.64" r="5.35" fill="#ff4500" stroke="#000" stroke-width="1.75"/>
<circle cx="449.59" cy="621.92" r="5.35" fill="#ff4500" stroke="#000" stroke-width="1.75"/>
<circle cx="504.32" cy="561.15" r="5.35" fill="#ff4500" stroke="#000" stroke-width="1.75"/>
<circle cx="559.04" cy="452.00" r="5.35" fill="#ff4500" stroke="#000" stroke-width="1.75"/>
<circle cx="613.77" cy="428.40" r="5.35" fill="#ff4500" stroke="#000" stroke-width="1.75"/>
<circle cx="668.50" cy="426.63" r="5.35" fill="#ff4500" stroke="#000" stroke-width="1.75"/>
<polyline points="175.95,717.50 230.68,717.50 285.41,717.50 340.13,716.91 394.86,715.73 449.59,713.08 504.32,702.46 559.04,672.96 613.77,582.68 668.50,558.79" fill="none" stroke="#1e90ff" stroke-width="3.3" stroke-linejoin="round"/>
<circle cx="175.95" cy="717.50" r="5.35" fill="#1e90ff" stroke="#000" stroke-width="1.75"/>
<circle cx="230.68" cy="717.50" r="5.35" fill="#1e90ff" stroke="#000" stroke-width="1.75"/>
<circle cx="285.41" cy="717.50" r="5.35" fill="#1e90ff" stroke="#000" stroke-width="1.75"/>
<circle cx="340.13" cy="716.91" r="5.35" fill="#1e90ff" stroke="#000" stroke-width="1.75"/>
<circle cx="394.86" cy="715.73" r="5.35" fill="#1e90ff" stroke="#000" stroke-width="1.75"/>
<circle cx="449.59" cy="713.08" r="5.35" fill="#1e90ff" stroke="#000" stroke-width="1.75"/>
<circle cx="504.32" cy="702.46" r="5.35" fill="#1e90ff" stroke="#000" stroke-width="1.75"/>
<circle cx="559.04" cy="672.96" r="5.35" fill="#1e90ff" stroke="#000" stroke-width="1.75"/>
<circle cx="613.77" cy="582.68" r="5.35" fill="#1e90ff" stroke="#000" stroke-width="1.75"/>
<circle cx="668.50" cy="558.79" r="5.35" fill="#1e90ff" stroke="#000" stroke-width="1.75"/>
<polyline points="175.95,717.50 230.68,717.50 285.41,717.50 340.13,716.91 394.86,715.14 449.59,711.89 504.32,693.01 559.04,637.85 613.77,618.67 668.50,621.92" fill="none" stroke="#ffd700" stroke-width="3.3" stroke-linejoin="round"/>
<circle cx="175.95" cy="717.50" r="5.35" fill="#ffd700" stroke="#000" stroke-width="1.75"/>
<circle cx="230.68" cy="717.50" r="5.35" fill="#ffd700" stroke="#000" stroke-width="1.75"/>
<circle cx="285.41" cy="717.50" r="5.35" fill="#ffd700" stroke="#000" stroke-width="1.75"/>
<circle cx="340.13" cy="716.91" r="5.35" fill="#ffd700" stroke="#000" stroke-width="1.75"/>
<circle cx="394.86" cy="715.14" r="5.35" fill="#ffd700" stroke="#000" stroke-width="1.75"/>
<circle cx="449.59" cy="711.89" r="5.35" fill="#ffd700" stroke="#000" stroke-width="1.75"/>
<circle cx="504.32" cy="693.01" r="5.35" fill="#ffd700" stroke="#000" stroke-width="1.75"/>
<circle cx="559.04" cy="637.85" r="5.35" fill="#ffd700" stroke="#000" stroke-width="1.75"/>
<circle cx="613.77" cy="618.67" r="5.35" fill="#ffd700" stroke="#000" stroke-width="1.75"/>
<circle cx="668.50" cy="621.92" r="5.35" fill="#ffd700" stroke="#000" stroke-width="1.75"/>
<rect x="155.5" y="411.0" width="523.20" height="324.40" fill="none" stroke="#111" stroke-width="1.4"/>
<text transform="translate(140.10,727.80) scale(1,1.03)" text-anchor="end" font-size="28" >0</text>
<text transform="translate(140.10,654.05) scale(1,1.03)" text-anchor="end" font-size="28" >0.25</text>
<text transform="translate(140.10,580.30) scale(1,1.03)" text-anchor="end" font-size="28" >0.5</text>
<text transform="translate(140.10,505.05) scale(1,1.03)" text-anchor="end" font-size="28" >0.75</text>
<text transform="translate(140.10,432.80) scale(1,1.03)" text-anchor="end" font-size="28" >1</text>
<text transform="translate(165.90,771.20) scale(1,1.03)" text-anchor="middle" font-size="28" >0</text>
<text transform="translate(266.42,771.20) scale(1,1.03)" text-anchor="middle" font-size="28" >0.1</text>
<text transform="translate(366.94,771.20) scale(1,1.03)" text-anchor="middle" font-size="28" >0.2</text>
<text transform="translate(467.46,771.20) scale(1,1.03)" text-anchor="middle" font-size="28" >0.3</text>
<text transform="translate(567.98,771.20) scale(1,1.03)" text-anchor="middle" font-size="28" >0.4</text>
<text transform="translate(668.50,771.20) scale(1,1.03)" text-anchor="middle" font-size="28" >0.5</text>
<text x="0" y="0" transform="translate(69.10,573.40) rotate(-90) scale(1,1.03)" text-anchor="middle" font-size="28">Partition distance</text>
<text transform="translate(-1.00,410.80) scale(1,1.03)" font-size="31" >(b)</text>
<line x1="155.50" y1="1111.19" x2="164.80" y2="1111.19" stroke="#222" stroke-width="0.8" />
<line x1="678.70" y1="1111.19" x2="669.40" y2="1111.19" stroke="#222" stroke-width="0.8" />
<line x1="155.50" y1="1097.67" x2="164.80" y2="1097.67" stroke="#222" stroke-width="0.8" />
<line x1="678.70" y1="1097.67" x2="669.40" y2="1097.67" stroke="#222" stroke-width="0.8" />
<line x1="155.50" y1="1084.16" x2="164.80" y2="1084.16" stroke="#222" stroke-width="0.8" />
<line x1="678.70" y1="1084.16" x2="669.40" y2="1084.16" stroke="#222" stroke-width="0.8" />
<line x1="155.50" y1="1070.65" x2="174.00" y2="1070.65" stroke="#222" stroke-width="0.8" />
<line x1="678.70" y1="1070.65" x2="660.20" y2="1070.65" stroke="#222" stroke-width="0.8" />
<line x1="155.50" y1="1057.14" x2="164.80" y2="1057.14" stroke="#222" stroke-width="0.8" />
<line x1="678.70" y1="1057.14" x2="669.40" y2="1057.14" stroke="#222" stroke-width="0.8" />
<line x1="155.50" y1="1043.62" x2="164.80" y2="1043.62" stroke="#222" stroke-width="0.8" />
<line x1="678.70" y1="1043.62" x2="669.40" y2="1043.62" stroke="#222" stroke-width="0.8" />
<line x1="155.50" y1="1030.11" x2="164.80" y2="1030.11" stroke="#222" stroke-width="0.8" />
<line x1="678.70" y1="1030.11" x2="669.40" y2="1030.11" stroke="#222" stroke-width="0.8" />
<line x1="155.50" y1="1016.60" x2="174.00" y2="1016.60" stroke="#222" stroke-width="0.8" />
<line x1="678.70" y1="1016.60" x2="660.20" y2="1016.60" stroke="#222" stroke-width="0.8" />
<line x1="155.50" y1="1003.09" x2="164.80" y2="1003.09" stroke="#222" stroke-width="0.8" />
<line x1="678.70" y1="1003.09" x2="669.40" y2="1003.09" stroke="#222" stroke-width="0.8" />
<line x1="155.50" y1="989.58" x2="164.80" y2="989.58" stroke="#222" stroke-width="0.8" />
<line x1="678.70" y1="989.58" x2="669.40" y2="989.58" stroke="#222" stroke-width="0.8" />
<line x1="155.50" y1="976.06" x2="164.80" y2="976.06" stroke="#222" stroke-width="0.8" />
<line x1="678.70" y1="976.06" x2="669.40" y2="976.06" stroke="#222" stroke-width="0.8" />
<line x1="155.50" y1="962.55" x2="174.00" y2="962.55" stroke="#222" stroke-width="0.8" />
<line x1="678.70" y1="962.55" x2="660.20" y2="962.55" stroke="#222" stroke-width="0.8" />
<line x1="155.50" y1="949.04" x2="164.80" y2="949.04" stroke="#222" stroke-width="0.8" />
<line x1="678.70" y1="949.04" x2="669.40" y2="949.04" stroke="#222" stroke-width="0.8" />
<line x1="155.50" y1="935.53" x2="164.80" y2="935.53" stroke="#222" stroke-width="0.8" />
<line x1="678.70" y1="935.53" x2="669.40" y2="935.53" stroke="#222" stroke-width="0.8" />
<line x1="155.50" y1="922.01" x2="164.80" y2="922.01" stroke="#222" stroke-width="0.8" />
<line x1="678.70" y1="922.01" x2="669.40" y2="922.01" stroke="#222" stroke-width="0.8" />
<line x1="155.50" y1="908.50" x2="174.00" y2="908.50" stroke="#222" stroke-width="0.8" />
<line x1="678.70" y1="908.50" x2="660.20" y2="908.50" stroke="#222" stroke-width="0.8" />
<line x1="155.50" y1="894.99" x2="164.80" y2="894.99" stroke="#222" stroke-width="0.8" />
<line x1="678.70" y1="894.99" x2="669.40" y2="894.99" stroke="#222" stroke-width="0.8" />
<line x1="155.50" y1="881.47" x2="164.80" y2="881.47" stroke="#222" stroke-width="0.8" />
<line x1="678.70" y1="881.47" x2="669.40" y2="881.47" stroke="#222" stroke-width="0.8" />
<line x1="155.50" y1="867.96" x2="164.80" y2="867.96" stroke="#222" stroke-width="0.8" />
<line x1="678.70" y1="867.96" x2="669.40" y2="867.96" stroke="#222" stroke-width="0.8" />
<line x1="155.50" y1="854.45" x2="174.00" y2="854.45" stroke="#222" stroke-width="0.8" />
<line x1="678.70" y1="854.45" x2="660.20" y2="854.45" stroke="#222" stroke-width="0.8" />
<line x1="155.50" y1="840.94" x2="164.80" y2="840.94" stroke="#222" stroke-width="0.8" />
<line x1="678.70" y1="840.94" x2="669.40" y2="840.94" stroke="#222" stroke-width="0.8" />
<line x1="155.50" y1="827.42" x2="164.80" y2="827.42" stroke="#222" stroke-width="0.8" />
<line x1="678.70" y1="827.42" x2="669.40" y2="827.42" stroke="#222" stroke-width="0.8" />
<line x1="155.50" y1="813.91" x2="164.80" y2="813.91" stroke="#222" stroke-width="0.8" />
<line x1="678.70" y1="813.91" x2="669.40" y2="813.91" stroke="#222" stroke-width="0.8" />
<line x1="165.90" y1="1124.70" x2="165.90" y2="1106.20" stroke="#222" stroke-width="0.8" />
<line x1="165.90" y1="800.40" x2="165.90" y2="818.90" stroke="#222" stroke-width="0.8" />
<line x1="186.00" y1="1124.70" x2="186.00" y2="1115.40" stroke="#222" stroke-width="0.8" />
<line x1="186.00" y1="800.40" x2="186.00" y2="809.70" stroke="#222" stroke-width="0.8" />
<line x1="206.11" y1="1124.70" x2="206.11" y2="1115.40" stroke="#222" stroke-width="0.8" />
<line x1="206.11" y1="800.40" x2="206.11" y2="809.70" stroke="#222" stroke-width="0.8" />
<line x1="226.21" y1="1124.70" x2="226.21" y2="1115.40" stroke="#222" stroke-width="0.8" />
<line x1="226.21" y1="800.40" x2="226.21" y2="809.70" stroke="#222" stroke-width="0.8" />
<line x1="246.32" y1="1124.70" x2="246.32" y2="1115.40" stroke="#222" stroke-width="0.8" />
<line x1="246.32" y1="800.40" x2="246.32" y2="809.70" stroke="#222" stroke-width="0.8" />
<line x1="266.42" y1="1124.70" x2="266.42" y2="1106.20" stroke="#222" stroke-width="0.8" />
<line x1="266.42" y1="800.40" x2="266.42" y2="818.90" stroke="#222" stroke-width="0.8" />
<line x1="286.52" y1="1124.70" x2="286.52" y2="1115.40" stroke="#222" stroke-width="0.8" />
<line x1="286.52" y1="800.40" x2="286.52" y2="809.70" stroke="#222" stroke-width="0.8" />
<line x1="306.63" y1="1124.70" x2="306.63" y2="1115.40" stroke="#222" stroke-width="0.8" />
<line x1="306.63" y1="800.40" x2="306.63" y2="809.70" stroke="#222" stroke-width="0.8" />
<line x1="326.73" y1="1124.70" x2="326.73" y2="1115.40" stroke="#222" stroke-width="0.8" />
<line x1="326.73" y1="800.40" x2="326.73" y2="809.70" stroke="#222" stroke-width="0.8" />
<line x1="346.84" y1="1124.70" x2="346.84" y2="1115.40" stroke="#222" stroke-width="0.8" />
<line x1="346.84" y1="800.40" x2="346.84" y2="809.70" stroke="#222" stroke-width="0.8" />
<line x1="366.94" y1="1124.70" x2="366.94" y2="1106.20" stroke="#222" stroke-width="0.8" />
<line x1="366.94" y1="800.40" x2="366.94" y2="818.90" stroke="#222" stroke-width="0.8" />
<line x1="387.04" y1="1124.70" x2="387.04" y2="1115.40" stroke="#222" stroke-width="0.8" />
<line x1="387.04" y1="800.40" x2="387.04" y2="809.70" stroke="#222" stroke-width="0.8" />
<line x1="407.15" y1="1124.70" x2="407.15" y2="1115.40" stroke="#222" stroke-width="0.8" />
<line x1="407.15" y1="800.40" x2="407.15" y2="809.70" stroke="#222" stroke-width="0.8" />
<line x1="427.25" y1="1124.70" x2="427.25" y2="1115.40" stroke="#222" stroke-width="0.8" />
<line x1="427.25" y1="800.40" x2="427.25" y2="809.70" stroke="#222" stroke-width="0.8" />
<line x1="447.36" y1="1124.70" x2="447.36" y2="1115.40" stroke="#222" stroke-width="0.8" />
<line x1="447.36" y1="800.40" x2="447.36" y2="809.70" stroke="#222" stroke-width="0.8" />
<line x1="467.46" y1="1124.70" x2="467.46" y2="1106.20" stroke="#222" stroke-width="0.8" />
<line x1="467.46" y1="800.40" x2="467.46" y2="818.90" stroke="#222" stroke-width="0.8" />
<line x1="487.56" y1="1124.70" x2="487.56" y2="1115.40" stroke="#222" stroke-width="0.8" />
<line x1="487.56" y1="800.40" x2="487.56" y2="809.70" stroke="#222" stroke-width="0.8" />
<line x1="507.67" y1="1124.70" x2="507.67" y2="1115.40" stroke="#222" stroke-width="0.8" />
<line x1="507.67" y1="800.40" x2="507.67" y2="809.70" stroke="#222" stroke-width="0.8" />
<line x1="527.77" y1="1124.70" x2="527.77" y2="1115.40" stroke="#222" stroke-width="0.8" />
<line x1="527.77" y1="800.40" x2="527.77" y2="809.70" stroke="#222" stroke-width="0.8" />
<line x1="547.88" y1="1124.70" x2="547.88" y2="1115.40" stroke="#222" stroke-width="0.8" />
<line x1="547.88" y1="800.40" x2="547.88" y2="809.70" stroke="#222" stroke-width="0.8" />
<line x1="567.98" y1="1124.70" x2="567.98" y2="1106.20" stroke="#222" stroke-width="0.8" />
<line x1="567.98" y1="800.40" x2="567.98" y2="818.90" stroke="#222" stroke-width="0.8" />
<line x1="588.08" y1="1124.70" x2="588.08" y2="1115.40" stroke="#222" stroke-width="0.8" />
<line x1="588.08" y1="800.40" x2="588.08" y2="809.70" stroke="#222" stroke-width="0.8" />
<line x1="608.19" y1="1124.70" x2="608.19" y2="1115.40" stroke="#222" stroke-width="0.8" />
<line x1="608.19" y1="800.40" x2="608.19" y2="809.70" stroke="#222" stroke-width="0.8" />
<line x1="628.29" y1="1124.70" x2="628.29" y2="1115.40" stroke="#222" stroke-width="0.8" />
<line x1="628.29" y1="800.40" x2="628.29" y2="809.70" stroke="#222" stroke-width="0.8" />
<line x1="648.40" y1="1124.70" x2="648.40" y2="1115.40" stroke="#222" stroke-width="0.8" />
<line x1="648.40" y1="800.40" x2="648.40" y2="809.70" stroke="#222" stroke-width="0.8" />
<line x1="668.50" y1="1124.70" x2="668.50" y2="1106.20" stroke="#222" stroke-width="0.8" />
<line x1="668.50" y1="800.40" x2="668.50" y2="818.90" stroke="#222" stroke-width="0.8" />
<line x1="155.50" y1="854.45" x2="678.70" y2="854.45" stroke="#000" stroke-width="2.3" stroke-dasharray="8.6 3.8"/>
<line x1="175.95" y1="1083.24" x2="175.95" y2="1087.24" stroke="#ff4500" stroke-width="4.3" />
<line x1="167.95" y1="1083.24" x2="183.95" y2="1083.24" stroke="#ff4500" stroke-width="1.6" />
<line x1="167.95" y1="1087.24" x2="183.95" y2="1087.24" stroke="#ff4500" stroke-width="1.6" />
<line x1="230.68" y1="1010.01" x2="230.68" y2="1014.01" stroke="#ff4500" stroke-width="4.3" />
<line x1="222.68" y1="1010.01" x2="238.68" y2="1010.01" stroke="#ff4500" stroke-width="1.6" />
<line x1="222.68" y1="1014.01" x2="238.68" y2="1014.01" stroke="#ff4500" stroke-width="1.6" />
<line x1="285.41" y1="961.90" x2="285.41" y2="965.90" stroke="#ff4500" stroke-width="4.3" />
<line x1="277.41" y1="961.90" x2="293.41" y2="961.90" stroke="#ff4500" stroke-width="1.6" />
<line x1="277.41" y1="965.90" x2="293.41" y2="965.90" stroke="#ff4500" stroke-width="1.6" />
<line x1="340.13" y1="927.58" x2="340.13" y2="931.58" stroke="#ff4500" stroke-width="4.3" />
<line x1="332.13" y1="927.58" x2="348.13" y2="927.58" stroke="#ff4500" stroke-width="1.6" />
<line x1="332.13" y1="931.58" x2="348.13" y2="931.58" stroke="#ff4500" stroke-width="1.6" />
<line x1="394.86" y1="901.10" x2="394.86" y2="905.10" stroke="#ff4500" stroke-width="4.3" />
<line x1="386.86" y1="901.10" x2="402.86" y2="901.10" stroke="#ff4500" stroke-width="1.6" />
<line x1="386.86" y1="905.10" x2="402.86" y2="905.10" stroke="#ff4500" stroke-width="1.6" />
<line x1="449.59" y1="880.83" x2="449.59" y2="884.83" stroke="#ff4500" stroke-width="4.3" />
<line x1="441.59" y1="880.83" x2="457.59" y2="880.83" stroke="#ff4500" stroke-width="1.6" />
<line x1="441.59" y1="884.83" x2="457.59" y2="884.83" stroke="#ff4500" stroke-width="1.6" />
<line x1="504.32" y1="866.77" x2="504.32" y2="870.77" stroke="#ff4500" stroke-width="4.3" />
<line x1="496.32" y1="866.77" x2="512.32" y2="866.77" stroke="#ff4500" stroke-width="1.6" />
<line x1="496.32" y1="870.77" x2="512.32" y2="870.77" stroke="#ff4500" stroke-width="1.6" />
<line x1="559.04" y1="857.86" x2="559.04" y2="861.86" stroke="#ff4500" stroke-width="4.3" />
<line x1="551.04" y1="857.86" x2="567.04" y2="857.86" stroke="#ff4500" stroke-width="1.6" />
<line x1="551.04" y1="861.86" x2="567.04" y2="861.86" stroke="#ff4500" stroke-width="1.6" />
<line x1="613.77" y1="854.34" x2="613.77" y2="858.34" stroke="#ff4500" stroke-width="4.3" />
<line x1="605.77" y1="854.34" x2="621.77" y2="854.34" stroke="#ff4500" stroke-width="1.6" />
<line x1="605.77" y1="858.34" x2="621.77" y2="858.34" stroke="#ff4500" stroke-width="1.6" />
<line x1="668.50" y1="852.99" x2="668.50" y2="856.99" stroke="#ff4500" stroke-width="4.3" />
<line x1="660.50" y1="852.99" x2="676.50" y2="852.99" stroke="#ff4500" stroke-width="1.6" />
<line x1="660.50" y1="856.99" x2="676.50" y2="856.99" stroke="#ff4500" stroke-width="1.6" />
<line x1="175.95" y1="1093.78" x2="175.95" y2="1097.78" stroke="#1e90ff" stroke-width="4.3" />
<line x1="167.95" y1="1093.78" x2="183.95" y2="1093.78" stroke="#1e90ff" stroke-width="1.6" />
<line x1="167.95" y1="1097.78" x2="183.95" y2="1097.78" stroke="#1e90ff" stroke-width="1.6" />
<line x1="230.68" y1="1019.73" x2="230.68" y2="1023.73" stroke="#1e90ff" stroke-width="4.3" />
<line x1="222.68" y1="1019.73" x2="238.68" y2="1019.73" stroke="#1e90ff" stroke-width="1.6" />
<line x1="222.68" y1="1023.73" x2="238.68" y2="1023.73" stroke="#1e90ff" stroke-width="1.6" />
<line x1="285.41" y1="971.36" x2="285.41" y2="975.36" stroke="#1e90ff" stroke-width="4.3" />
<line x1="277.41" y1="971.36" x2="293.41" y2="971.36" stroke="#1e90ff" stroke-width="1.6" />
<line x1="277.41" y1="975.36" x2="293.41" y2="975.36" stroke="#1e90ff" stroke-width="1.6" />
<line x1="340.13" y1="936.50" x2="340.13" y2="940.50" stroke="#1e90ff" stroke-width="4.3" />
<line x1="332.13" y1="936.50" x2="348.13" y2="936.50" stroke="#1e90ff" stroke-width="1.6" />
<line x1="332.13" y1="940.50" x2="348.13" y2="940.50" stroke="#1e90ff" stroke-width="1.6" />
<line x1="394.86" y1="909.47" x2="394.86" y2="913.47" stroke="#1e90ff" stroke-width="4.3" />
<line x1="386.86" y1="909.47" x2="402.86" y2="909.47" stroke="#1e90ff" stroke-width="1.6" />
<line x1="386.86" y1="913.47" x2="402.86" y2="913.47" stroke="#1e90ff" stroke-width="1.6" />
<line x1="449.59" y1="889.47" x2="449.59" y2="893.47" stroke="#1e90ff" stroke-width="4.3" />
<line x1="441.59" y1="889.47" x2="457.59" y2="889.47" stroke="#1e90ff" stroke-width="1.6" />
<line x1="441.59" y1="893.47" x2="457.59" y2="893.47" stroke="#1e90ff" stroke-width="1.6" />
<line x1="504.32" y1="873.80" x2="504.32" y2="877.80" stroke="#1e90ff" stroke-width="4.3" />
<line x1="496.32" y1="873.80" x2="512.32" y2="873.80" stroke="#1e90ff" stroke-width="1.6" />
<line x1="496.32" y1="877.80" x2="512.32" y2="877.80" stroke="#1e90ff" stroke-width="1.6" />
<line x1="559.04" y1="862.72" x2="559.04" y2="866.72" stroke="#1e90ff" stroke-width="4.3" />
<line x1="551.04" y1="862.72" x2="567.04" y2="862.72" stroke="#1e90ff" stroke-width="1.6" />
<line x1="551.04" y1="866.72" x2="567.04" y2="866.72" stroke="#1e90ff" stroke-width="1.6" />
<line x1="613.77" y1="857.31" x2="613.77" y2="861.31" stroke="#1e90ff" stroke-width="4.3" />
<line x1="605.77" y1="857.31" x2="621.77" y2="857.31" stroke="#1e90ff" stroke-width="1.6" />
<line x1="605.77" y1="861.31" x2="621.77" y2="861.31" stroke="#1e90ff" stroke-width="1.6" />
<line x1="668.50" y1="853.80" x2="668.50" y2="857.80" stroke="#1e90ff" stroke-width="4.3" />
<line x1="660.50" y1="853.80" x2="676.50" y2="853.80" stroke="#1e90ff" stroke-width="1.6" />
<line x1="660.50" y1="857.80" x2="676.50" y2="857.80" stroke="#1e90ff" stroke-width="1.6" />
<line x1="175.95" y1="1088.38" x2="175.95" y2="1092.38" stroke="#ffd700" stroke-width="4.3" />
<line x1="167.95" y1="1088.38" x2="183.95" y2="1088.38" stroke="#ffd700" stroke-width="1.6" />
<line x1="167.95" y1="1092.38" x2="183.95" y2="1092.38" stroke="#ffd700" stroke-width="1.6" />
<line x1="230.68" y1="1014.33" x2="230.68" y2="1018.33" stroke="#ffd700" stroke-width="4.3" />
<line x1="222.68" y1="1014.33" x2="238.68" y2="1014.33" stroke="#ffd700" stroke-width="1.6" />
<line x1="222.68" y1="1018.33" x2="238.68" y2="1018.33" stroke="#ffd700" stroke-width="1.6" />
<line x1="285.41" y1="966.77" x2="285.41" y2="970.77" stroke="#ffd700" stroke-width="4.3" />
<line x1="277.41" y1="966.77" x2="293.41" y2="966.77" stroke="#ffd700" stroke-width="1.6" />
<line x1="277.41" y1="970.77" x2="293.41" y2="970.77" stroke="#ffd700" stroke-width="1.6" />
<line x1="340.13" y1="932.17" x2="340.13" y2="936.17" stroke="#ffd700" stroke-width="4.3" />
<line x1="332.13" y1="932.17" x2="348.13" y2="932.17" stroke="#ffd700" stroke-width="1.6" />
<line x1="332.13" y1="936.17" x2="348.13" y2="936.17" stroke="#ffd700" stroke-width="1.6" />
<line x1="394.86" y1="904.88" x2="394.86" y2="908.88" stroke="#ffd700" stroke-width="4.3" />
<line x1="386.86" y1="904.88" x2="402.86" y2="904.88" stroke="#ffd700" stroke-width="1.6" />
<line x1="386.86" y1="908.88" x2="402.86" y2="908.88" stroke="#ffd700" stroke-width="1.6" />
<line x1="449.59" y1="885.42" x2="449.59" y2="889.42" stroke="#ffd700" stroke-width="4.3" />
<line x1="441.59" y1="885.42" x2="457.59" y2="885.42" stroke="#ffd700" stroke-width="1.6" />
<line x1="441.59" y1="889.42" x2="457.59" y2="889.42" stroke="#ffd700" stroke-width="1.6" />
<line x1="504.32" y1="870.29" x2="504.32" y2="874.29" stroke="#ffd700" stroke-width="4.3" />
<line x1="496.32" y1="870.29" x2="512.32" y2="870.29" stroke="#ffd700" stroke-width="1.6" />
<line x1="496.32" y1="874.29" x2="512.32" y2="874.29" stroke="#ffd700" stroke-width="1.6" />
<line x1="559.04" y1="860.29" x2="559.04" y2="864.29" stroke="#ffd700" stroke-width="4.3" />
<line x1="551.04" y1="860.29" x2="567.04" y2="860.29" stroke="#ffd700" stroke-width="1.6" />
<line x1="551.04" y1="864.29" x2="567.04" y2="864.29" stroke="#ffd700" stroke-width="1.6" />
<line x1="613.77" y1="855.96" x2="613.77" y2="859.96" stroke="#ffd700" stroke-width="4.3" />
<line x1="605.77" y1="855.96" x2="621.77" y2="855.96" stroke="#ffd700" stroke-width="1.6" />
<line x1="605.77" y1="859.96" x2="621.77" y2="859.96" stroke="#ffd700" stroke-width="1.6" />
<line x1="668.50" y1="853.53" x2="668.50" y2="857.53" stroke="#ffd700" stroke-width="4.3" />
<line x1="660.50" y1="853.53" x2="676.50" y2="853.53" stroke="#ffd700" stroke-width="1.6" />
<line x1="660.50" y1="857.53" x2="676.50" y2="857.53" stroke="#ffd700" stroke-width="1.6" />
<polyline points="175.95,1085.24 230.68,1012.01 285.41,963.90 340.13,929.58 394.86,903.10 449.59,882.83 504.32,868.77 559.04,859.86 613.77,856.34 668.50,854.99" fill="none" stroke="#ff4500" stroke-width="3.3" stroke-linejoin="round"/>
<circle cx="175.95" cy="1085.24" r="5.35" fill="#ff4500" stroke="#000" stroke-width="1.75"/>
<circle cx="230.68" cy="1012.01" r="5.35" fill="#ff4500" stroke="#000" stroke-width="1.75"/>
<circle cx="285.41" cy="963.90" r="5.35" fill="#ff4500" stroke="#000" stroke-width="1.75"/>
<circle cx="340.13" cy="929.58" r="5.35" fill="#ff4500" stroke="#000" stroke-width="1.75"/>
<circle cx="394.86" cy="903.10" r="5.35" fill="#ff4500" stroke="#000" stroke-width="1.75"/>
<circle cx="449.59" cy="882.83" r="5.35" fill="#ff4500" stroke="#000" stroke-width="1.75"/>
<circle cx="504.32" cy="868.77" r="5.35" fill="#ff4500" stroke="#000" stroke-width="1.75"/>
<circle cx="559.04" cy="859.86" r="5.35" fill="#ff4500" stroke="#000" stroke-width="1.75"/>
<circle cx="613.77" cy="856.34" r="5.35" fill="#ff4500" stroke="#000" stroke-width="1.75"/>
<circle cx="668.50" cy="854.99" r="5.35" fill="#ff4500" stroke="#000" stroke-width="1.75"/>
<polyline points="175.95,1095.78 230.68,1021.73 285.41,973.36 340.13,938.50 394.86,911.47 449.59,891.47 504.32,875.80 559.04,864.72 613.77,859.31 668.50,855.80" fill="none" stroke="#1e90ff" stroke-width="3.3" stroke-linejoin="round"/>
<circle cx="175.95" cy="1095.78" r="5.35" fill="#1e90ff" stroke="#000" stroke-width="1.75"/>
<circle cx="230.68" cy="1021.73" r="5.35" fill="#1e90ff" stroke="#000" stroke-width="1.75"/>
<circle cx="285.41" cy="973.36" r="5.35" fill="#1e90ff" stroke="#000" stroke-width="1.75"/>
<circle cx="340.13" cy="938.50" r="5.35" fill="#1e90ff" stroke="#000" stroke-width="1.75"/>
<circle cx="394.86" cy="911.47" r="5.35" fill="#1e90ff" stroke="#000" stroke-width="1.75"/>
<circle cx="449.59" cy="891.47" r="5.35" fill="#1e90ff" stroke="#000" stroke-width="1.75"/>
<circle cx="504.32" cy="875.80" r="5.35" fill="#1e90ff" stroke="#000" stroke-width="1.75"/>
<circle cx="559.04" cy="864.72" r="5.35" fill="#1e90ff" stroke="#000" stroke-width="1.75"/>
<circle cx="613.77" cy="859.31" r="5.35" fill="#1e90ff" stroke="#000" stroke-width="1.75"/>
<circle cx="668.50" cy="855.80" r="5.35" fill="#1e90ff" stroke="#000" stroke-width="1.75"/>
<polyline points="175.95,1090.38 230.68,1016.33 285.41,968.77 340.13,934.17 394.86,906.88 449.59,887.42 504.32,872.29 559.04,862.29 613.77,857.96 668.50,855.53" fill="none" stroke="#ffd700" stroke-width="3.3" stroke-linejoin="round"/>
<circle cx="175.95" cy="1090.38" r="5.35" fill="#ffd700" stroke="#000" stroke-width="1.75"/>
<circle cx="230.68" cy="1016.33" r="5.35" fill="#ffd700" stroke="#000" stroke-width="1.75"/>
<circle cx="285.41" cy="968.77" r="5.35" fill="#ffd700" stroke="#000" stroke-width="1.75"/>
<circle cx="340.13" cy="934.17" r="5.35" fill="#ffd700" stroke="#000" stroke-width="1.75"/>
<circle cx="394.86" cy="906.88" r="5.35" fill="#ffd700" stroke="#000" stroke-width="1.75"/>
<circle cx="449.59" cy="887.42" r="5.35" fill="#ffd700" stroke="#000" stroke-width="1.75"/>
<circle cx="504.32" cy="872.29" r="5.35" fill="#ffd700" stroke="#000" stroke-width="1.75"/>
<circle cx="559.04" cy="862.29" r="5.35" fill="#ffd700" stroke="#000" stroke-width="1.75"/>
<circle cx="613.77" cy="857.96" r="5.35" fill="#ffd700" stroke="#000" stroke-width="1.75"/>
<circle cx="668.50" cy="855.53" r="5.35" fill="#ffd700" stroke="#000" stroke-width="1.75"/>
<rect x="155.5" y="800.4" width="523.20" height="324.30" fill="none" stroke="#111" stroke-width="1.4"/>
<text transform="translate(140.10,1135.00) scale(1,1.03)" text-anchor="end" font-size="28" >0</text>
<text transform="translate(140.10,1080.95) scale(1,1.03)" text-anchor="end" font-size="28" >0.2</text>
<text transform="translate(140.10,1026.90) scale(1,1.03)" text-anchor="end" font-size="28" >0.4</text>
<text transform="translate(140.10,972.85) scale(1,1.03)" text-anchor="end" font-size="28" >0.6</text>
<text transform="translate(140.10,918.80) scale(1,1.03)" text-anchor="end" font-size="28" >0.8</text>
<text transform="translate(140.10,864.75) scale(1,1.03)" text-anchor="end" font-size="28" >1</text>
<text transform="translate(140.10,810.70) scale(1,1.03)" text-anchor="end" font-size="28" >1.2</text>
<text transform="translate(165.90,1160.50) scale(1,1.03)" text-anchor="middle" font-size="28" >0</text>
<text transform="translate(266.42,1160.50) scale(1,1.03)" text-anchor="middle" font-size="28" >0.1</text>
<text transform="translate(366.94,1160.50) scale(1,1.03)" text-anchor="middle" font-size="28" >0.2</text>
<text transform="translate(467.46,1160.50) scale(1,1.03)" text-anchor="middle" font-size="28" >0.3</text>
<text transform="translate(567.98,1160.50) scale(1,1.03)" text-anchor="middle" font-size="28" >0.4</text>
<text transform="translate(668.50,1160.50) scale(1,1.03)" text-anchor="middle" font-size="28" >0.5</text>
<text x="0" y="0" transform="translate(82.80,962.90) rotate(-90) scale(1,1.03)" text-anchor="middle" font-size="28">Inverse compression ratio</text>
<line x1="357.90" y1="1083.00" x2="415.00" y2="1083.00" stroke="#000" stroke-width="2.3" stroke-dasharray="8.6 3.8"/>
<text transform="translate(437.20,1093.40) scale(1,1.03)" font-size="28" >Naive transmission</text>
<text transform="translate(-1.00,800.20) scale(1,1.03)" font-size="31" >(c)</text>
<text transform="translate(417.10,1208.80) scale(1,1.03)" text-anchor="middle" font-size="28" >Flip probability</text></svg>
</body></html>
